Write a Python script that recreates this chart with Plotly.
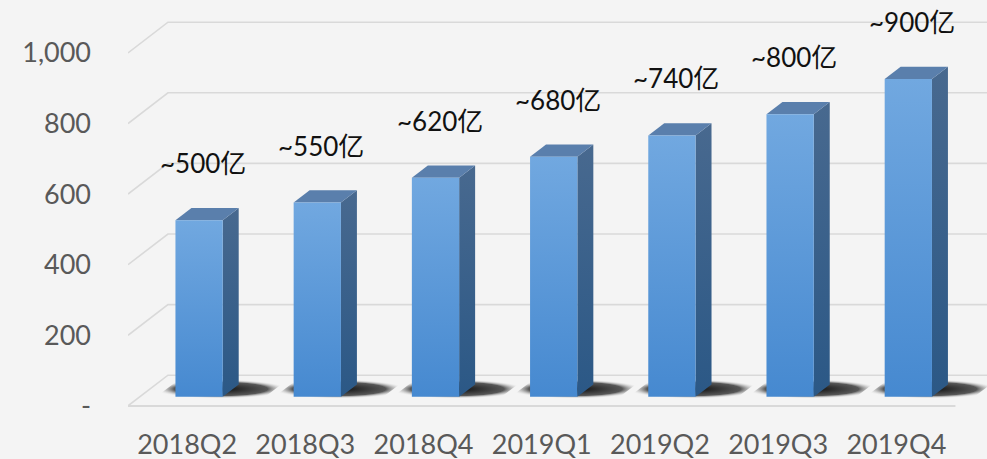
import plotly.graph_objects as go

categories = ["2018Q2", "2018Q3", "2018Q4", "2019Q1", "2019Q2", "2019Q3", "2019Q4"]
values = [500, 550, 620, 680, 740, 800, 900]
labels = ["~500亿", "~550亿", "~620亿", "~680亿", "~740亿", "~800亿", "~900亿"]
ytick_vals = [0, 200, 400, 600, 800, 1000]
ytick_text = ["-", "200", "400", "600", "800", "1,000"]

# pseudo-3D projection (depth offsets in axis units)
DX, DY = 0.338, 87.0
D0, D1 = 0.3, 0.7   # bar front / back depth
HW = 0.2            # half bar width
XL, XR = -0.5, len(categories) - 0.5

BG = "#f4f4f4"
GRID = "#d9d9d9"
TXT = "#595959"

fig = go.Figure()

def poly(xs, ys, fill=None, grad=None):
    kw = dict(x=xs + [xs[0]], y=ys + [ys[0]], mode="lines", fill="toself",
              line=dict(width=0, color="rgba(0,0,0,0)"),
              hoverinfo="skip", showlegend=False)
    if grad is not None:
        kw["fillgradient"] = grad
    else:
        kw["fillcolor"] = fill
    fig.add_trace(go.Scatter(**kw))

# walls / gridlines
for t in ytick_vals:
    fig.add_trace(go.Scatter(x=[XL, XL + DX, XR + 2], y=[t, t + DY, t + DY], mode="lines",
                             line=dict(color=GRID, width=1.6), hoverinfo="skip", showlegend=False))
fig.add_trace(go.Scatter(x=[XL, XR], y=[0, 0], mode="lines",
                         line=dict(color=GRID, width=2), hoverinfo="skip", showlegend=False))

# shadows on the floor
for i, v in enumerate(values):
    xl, xr = i - HW, i + HW
    pts = [(xl - 0.16, 0.24), (xr + 0.36, 0.24), (xr + 0.36, 0.86), (xl - 0.16, 0.86)]
    xs = [p[0] + p[1] * DX for p in pts]
    ys = [p[1] * DY for p in pts]
    poly(xs, ys, grad=dict(type="radial",
                           colorscale=[[0, "rgba(0,0,0,0.95)"], [0.7, "rgba(35,35,35,0.75)"],
                                       [1, "rgba(244,244,244,0)"]]))

# bars
for i, v in enumerate(values):
    xl, xr = i - HW, i + HW
    # side face
    poly([xr + D0 * DX, xr + D1 * DX, xr + D1 * DX, xr + D0 * DX],
         [D0 * DY, D1 * DY, v + D1 * DY, v + D0 * DY],
         grad=dict(type="vertical", colorscale=[[0, "#2b5886"], [1, "#48698f"]]))
    # top face
    poly([xl + D0 * DX, xr + D0 * DX, xr + D1 * DX, xl + D1 * DX],
         [v + D0 * DY, v + D0 * DY, v + D1 * DY, v + D1 * DY],
         fill="#5a7fac")
    # front face
    poly([xl + D0 * DX, xr + D0 * DX, xr + D0 * DX, xl + D0 * DX],
         [D0 * DY, D0 * DY, v + D0 * DY, v + D0 * DY],
         grad=dict(type="vertical", colorscale=[[0, "#4689d0"], [1, "#71a8e0"]]))

# data labels
for i, (v, lab) in enumerate(zip(values, labels)):
    fig.add_annotation(x=i + D0 * DX, y=v + D0 * DY, text=lab, showarrow=False,
                       yshift=57, xshift=4, yanchor="middle",
                       font=dict(size=26, color="#111111", family="Lato, 'Noto Sans CJK SC'"))

fig.update_layout(
    width=987, height=459,
    margin=dict(l=128, r=0, t=0, b=39),
    paper_bgcolor=BG, plot_bgcolor=BG,
    font=dict(family="Lato, 'Noto Sans CJK SC'", color=TXT, size=27),
    showlegend=False, hovermode=False,
    xaxis=dict(range=[-0.5, 6.767], tickvals=list(range(len(categories))), ticktext=categories,
               showgrid=False, zeroline=False, showline=False, ticks="", ticklabelstandoff=6,
               fixedrange=True, automargin=False),
    yaxis=dict(range=[-40, 1150], tickvals=ytick_vals, ticktext=ytick_text,
               showgrid=False, zeroline=False, showline=False, ticks="", ticklabelstandoff=36,
               fixedrange=True, automargin=False),
)

fig.write_html("out.html", config={"displayModeBar": False},
               post_script="document.body.style.margin='0';document.body.style.background='#f4f4f4';")
